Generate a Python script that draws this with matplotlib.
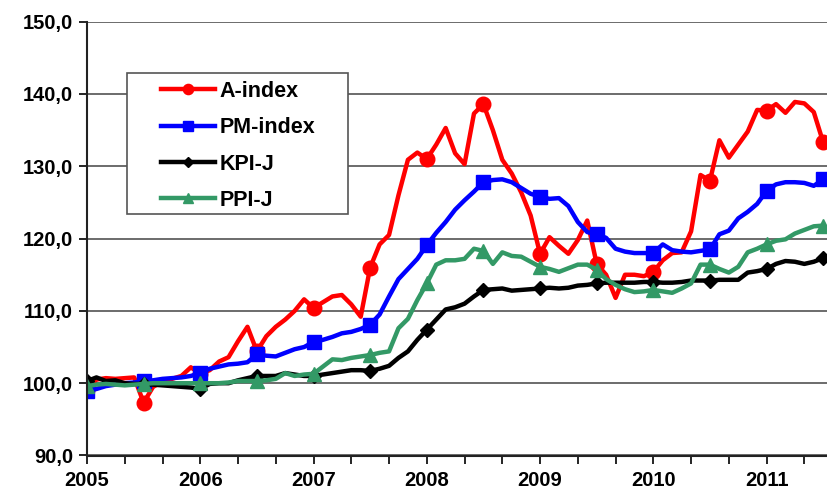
import numpy as np
import matplotlib
matplotlib.use("Agg")
import matplotlib.pyplot as plt
from matplotlib.patches import Rectangle

# monthly values, Jan 2005 .. Jul 2011
a_index = [99.1, 100.5, 100.7, 100.6, 100.7, 100.8, 97.3, 99.5, 100.2, 100.6,
           101.0, 102.2, 101.3, 101.8, 103.0, 103.6, 105.8, 107.8, 104.4, 106.5,
           107.8, 108.8, 110.0, 111.6, 110.4, 111.2, 112.0, 112.2, 110.9, 109.2,
           116.0, 119.2, 120.5, 126.0, 130.9, 131.9, 131.0, 133.0, 135.3, 131.8,
           130.3, 137.3, 138.6, 135.0, 130.9, 129.0, 126.4, 123.2, 117.9, 120.2,
           119.0, 117.9, 119.8, 122.5, 116.5, 115.0, 111.8, 115.0, 115.0, 114.8,
           115.4, 117.0, 118.0, 118.1, 121.0, 128.8, 128.0, 133.6, 131.2, 133.0,
           134.8, 137.8, 137.7, 138.6, 137.4, 138.9, 138.7, 137.5, 133.3]
pm_index = [98.9, 99.2, 99.6, 99.8, 100.0, 100.1, 100.3, 100.4, 100.6, 100.7,
            100.8, 101.0, 101.4, 102.0, 102.3, 102.6, 102.7, 102.9, 104.0, 103.8,
            103.7, 104.2, 104.7, 105.0, 105.7, 106.0, 106.4, 106.9, 107.1, 107.5,
            108.1, 109.5, 112.0, 114.4, 115.8, 117.2, 119.1, 120.8, 122.3, 124.0,
            125.3, 126.5, 127.8, 128.1, 128.2, 127.8, 127.0, 126.2, 125.8, 125.5,
            125.6, 124.5, 122.3, 120.9, 120.6, 120.1, 118.6, 118.2, 118.0, 118.0,
            118.0, 119.2, 118.4, 118.2, 118.1, 118.3, 118.5, 120.6, 121.1, 122.8,
            123.7, 124.8, 126.6, 127.5, 127.8, 127.8, 127.7, 127.3, 128.2]
kpi_j = [100.3, 100.8, 100.3, 100.4, 100.0, 99.9, 99.9, 99.8, 99.7, 99.6,
         99.5, 99.4, 99.2, 99.9, 100.0, 100.0, 100.4, 100.7, 101.0, 101.0,
         101.0, 101.4, 101.2, 101.0, 101.0, 101.2, 101.4, 101.6, 101.8, 101.8,
         101.7, 102.0, 102.4, 103.5, 104.4, 106.0, 107.4, 108.8, 110.2, 110.5,
         111.0, 112.0, 112.9, 113.0, 113.1, 112.8, 112.9, 113.0, 113.1, 113.2,
         113.1, 113.2, 113.5, 113.6, 113.8, 113.9, 113.9, 113.9, 113.9, 114.0,
         114.0, 113.9, 113.9, 114.0, 114.2, 114.2, 114.2, 114.3, 114.3, 114.3,
         115.3, 115.5, 115.8, 116.5, 116.9, 116.8, 116.5, 116.8, 117.3]
ppi_j = [99.6, 99.8, 99.9, 99.8, 99.7, 99.8, 99.9, 100.0, 100.0, 100.0,
         100.0, 100.0, 100.0, 100.0, 100.0, 100.1, 100.3, 100.3, 100.3, 100.4,
         100.6, 101.4, 101.0, 101.2, 101.3, 102.3, 103.3, 103.2, 103.5, 103.7,
         103.9, 104.2, 104.4, 107.6, 108.9, 111.5, 113.8, 116.4, 117.0, 117.0,
         117.2, 118.6, 118.3, 116.5, 118.1, 117.6, 117.5, 116.8, 116.1, 115.8,
         115.4, 115.9, 116.4, 116.4, 115.7, 114.4, 113.6, 113.0, 112.6, 112.7,
         112.9, 112.7, 112.5, 113.1, 113.8, 116.4, 116.4, 115.8, 115.3, 116.1,
         118.1, 118.6, 119.2, 119.7, 119.9, 120.7, 121.2, 121.7, 121.8]
years = ["2005", "2006", "2007", "2008", "2009", "2010", "2011"]

plt.rcParams['font.family'] = ['Liberation Sans', 'DejaVu Sans']
plt.rcParams['font.weight'] = 'bold'

W, H = 827, 490
fig = plt.figure(figsize=(W / 100, H / 100), dpi=100)
ax = fig.add_axes([87/W, 34.5/H, 1 - 87/W, 433.8/H])

x = np.arange(len(a_index))
every = slice(0, None, 6)
ax.plot(x, a_index, color='#FF0000', lw=3.2, marker='o', ms=10.5, markevery=every, label='A-index')
ax.plot(x, pm_index, color='#0000FF', lw=3.2, marker='s', ms=10.5, markevery=every, label='PM-index')
ax.plot(x, kpi_j, color='black', lw=3.2, marker='D', ms=7.5, markevery=every, label='KPI-J')
ax.plot(x, ppi_j, color='#339966', lw=3.2, marker='^', ms=10, markevery=every, label='PPI-J')

ax.set_ylim(90, 150)
ax.set_xlim(0, 78.4)
ax.set_yticks(np.arange(90, 151, 10))
ax.set_yticklabels([f"{v},0" for v in range(90, 151, 10)])
ax.set_xticks(np.arange(0, 79, 4), minor=True)
ax.set_xticks(np.arange(0, 73, 12))
ax.set_xticklabels(years)
ax.tick_params(axis='both', which='both', direction='out', length=6, width=1.2,
               color='black', labelsize=14.5, pad=4)
ax.tick_params(axis='x', which='major', pad=5)
ax.grid(axis='y', color='#444444', lw=1.1)
ax.set_axisbelow(True)
for s in ('top', 'right'):
    ax.spines[s].set_visible(False)
for s in ('left', 'bottom'):
    ax.spines[s].set_linewidth(1.5)
    ax.spines[s].set_color('#222222')

# legend box drawn separately, Excel style wide padding
box = Rectangle((127/W, 1 - 214/H), (348 - 127)/W, (214 - 73)/H, transform=fig.transFigure,
                facecolor='white', edgecolor='#555555', lw=1.2, zorder=5, clip_on=False)
ax.add_patch(box)
leg = ax.legend(loc='upper left', bbox_to_anchor=(161/W, 1 - 81/H), bbox_transform=fig.transFigure,
                fontsize=15.5, frameon=False, handlelength=2.5, markerscale=0.7,
                labelspacing=0.71, borderpad=0, handletextpad=0.23, borderaxespad=0)
leg.set_zorder(6)
for t in leg.get_texts():
    t.set_fontweight('bold')

fig.savefig('out.png', dpi=100)
